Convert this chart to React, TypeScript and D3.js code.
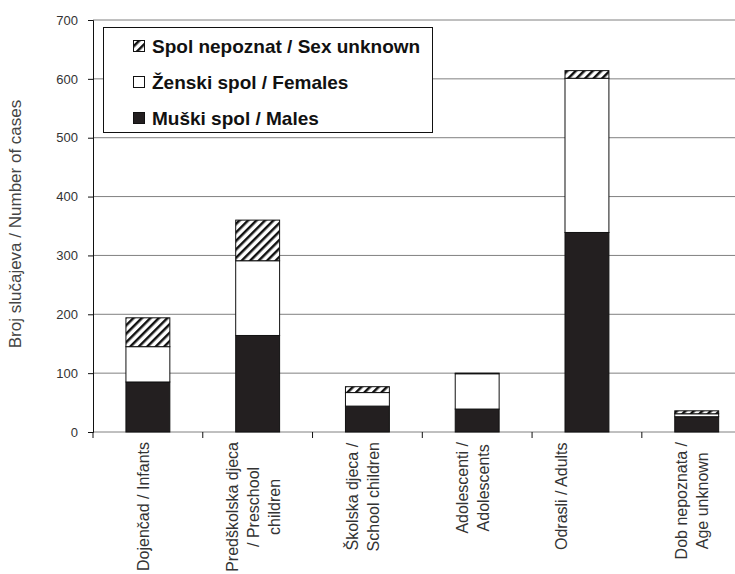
import React, { useEffect, useRef } from "react";
import * as d3 from "d3";

const categories = [
  ["Dojenčad / Infants"],
  ["Predškolska djeca", "/ Preschool", "children"],
  ["Školska djeca /", "School children"],
  ["Adolescenti /", "Adolescents"],
  ["Odrasli / Adults", "", ""],
  ["Dob nepoznata /", "Age  unknown"],
];
const males = [85, 164, 44, 39, 339, 26];
const females = [60, 127, 23, 60, 262, 5];
const unknown = [49, 69, 10, 1, 13, 5];
const yTicks = [0, 100, 200, 300, 400, 500, 600, 700];
const legendItems = [
  { key: "unknown", label: "Spol nepoznat / Sex unknown" },
  { key: "females", label: "Ženski spol / Females" },
  { key: "males", label: "Muški spol / Males" },
];

const W = 735;
const H = 574;
const FONT = "'Liberation Sans', Arial, sans-serif";

export default function App() {
  const ref = useRef<SVGSVGElement>(null);

  useEffect(() => {
    document.body.style.margin = "0";
    const svg = d3.select(ref.current);
    svg.selectAll("*").remove();

    const keys = categories.map((c) => c.join(" "));
    const x = d3
      .scaleBand()
      .domain(keys)
      .range([93, 751.6])
      .paddingInner(0.6)
      .paddingOuter(0.3);
    const y = d3.scaleLinear().domain([0, 700]).range([432, 20]);

    const defs = svg.append("defs");
    const pat = defs
      .append("pattern")
      .attr("id", "hatch")
      .attr("patternUnits", "userSpaceOnUse")
      .attr("width", 6)
      .attr("height", 6)
      .attr("patternTransform", "rotate(45)");
    pat.append("rect").attr("width", 6).attr("height", 6).attr("fill", "#fff");
    pat
      .append("line")
      .attr("x1", 0)
      .attr("y1", 0)
      .attr("x2", 0)
      .attr("y2", 6)
      .attr("stroke", "#111")
      .attr("stroke-width", 5);

    // gridlines
    svg
      .append("g")
      .selectAll("line")
      .data(yTicks)
      .join("line")
      .attr("x1", 93)
      .attr("x2", W)
      .attr("y1", (d) => y(d))
      .attr("y2", (d) => y(d))
      .attr("stroke", "#808080")
      .attr("stroke-width", 1);

    // y axis
    const yAxis = svg
      .append("g")
      .attr("transform", "translate(93,0)")
      .call(d3.axisLeft(y).tickValues(yTicks).tickSize(5).tickPadding(10));
    yAxis.select(".domain").attr("stroke", "#111");
    yAxis.selectAll(".tick line").attr("stroke", "#111");
    yAxis
      .selectAll(".tick text")
      .attr("font-family", FONT)
      .attr("font-size", 13)
      .attr("fill", "#333");

    // x ticks
    const bounds = keys.map((k) => (x(k) as number) - x.step() * 0.3);
    svg
      .append("g")
      .selectAll("line")
      .data(bounds)
      .join("line")
      .attr("x1", (d) => d)
      .attr("x2", (d) => d)
      .attr("y1", 432)
      .attr("y2", 438)
      .attr("stroke", "#111");

    // stacked bars
    const rows = keys.map((k, i) => ({
      key: k,
      males: males[i],
      females: females[i],
      unknown: unknown[i],
    }));
    const stack = d3.stack<any>().keys(["males", "females", "unknown"]);
    const series = stack(rows);
    const fills: Record<string, string> = {
      males: "#231f20",
      females: "#ffffff",
      unknown: "url(#hatch)",
    };
    series.forEach((s) => {
      svg
        .append("g")
        .selectAll("rect")
        .data(s)
        .join("rect")
        .attr("x", (d: any) => x(d.data.key) as number)
        .attr("width", x.bandwidth())
        .attr("y", (d) => y(d[1]))
        .attr("height", (d) => y(d[0]) - y(d[1]))
        .attr("fill", fills[s.key])
        .attr("stroke", "#111")
        .attr("stroke-width", 1);
    });

    // x labels
    const canvas = document.createElement("canvas");
    const ctx = canvas.getContext("2d")!;
    ctx.font = `16px ${FONT}`;
    categories.forEach((lines, i) => {
      const cx = (x(keys[i]) as number) + x.bandwidth() / 2;
      const maxW = d3.max(lines, (l) => ctx.measureText(l).width) as number;
      const cy = 442 + maxW / 2;
      lines.forEach((l, j) => {
        if (!l) return;
        const bx = cx + (j - (lines.length - 1) / 2) * 21 + 1;
        svg
          .append("text")
          .attr("transform", `translate(${bx},${cy}) rotate(-90)`)
          .attr("text-anchor", "middle")
          .attr("font-family", FONT)
          .attr("font-size", 16)
          .attr("fill", "#333")
          .text(l);
      });
    });

    // y title
    svg
      .append("text")
      .attr("transform", "translate(21,224) rotate(-90)")
      .attr("text-anchor", "middle")
      .attr("font-family", FONT)
      .attr("font-size", 17)
      .attr("fill", "#444")
      .text("Broj slučajeva / Number of cases");

    // legend
    const lg = svg.append("g");
    lg.append("rect")
      .attr("x", 103.5)
      .attr("y", 27.5)
      .attr("width", 329)
      .attr("height", 105)
      .attr("fill", "#fff")
      .attr("stroke", "#111");
    const ly = [46, 82, 118];
    legendItems.forEach((it, i) => {
      lg.append("rect")
        .attr("x", 133.5)
        .attr("y", ly[i] - 5.5)
        .attr("width", 11)
        .attr("height", 11)
        .attr("fill", it.key === "unknown" ? "url(#hatch)" : fills[it.key])
        .attr("stroke", "#111");
      lg.append("text")
        .attr("x", 152)
        .attr("y", ly[i] + 7)
        .attr("font-family", FONT)
        .attr("font-size", 19)
        .attr("font-weight", "bold")
        .attr("fill", "#111")
        .text(it.label);
    });
  }, []);

  return <svg ref={ref} width={W} height={H} style={{ display: "block", background: "#fff" }} />;
}
